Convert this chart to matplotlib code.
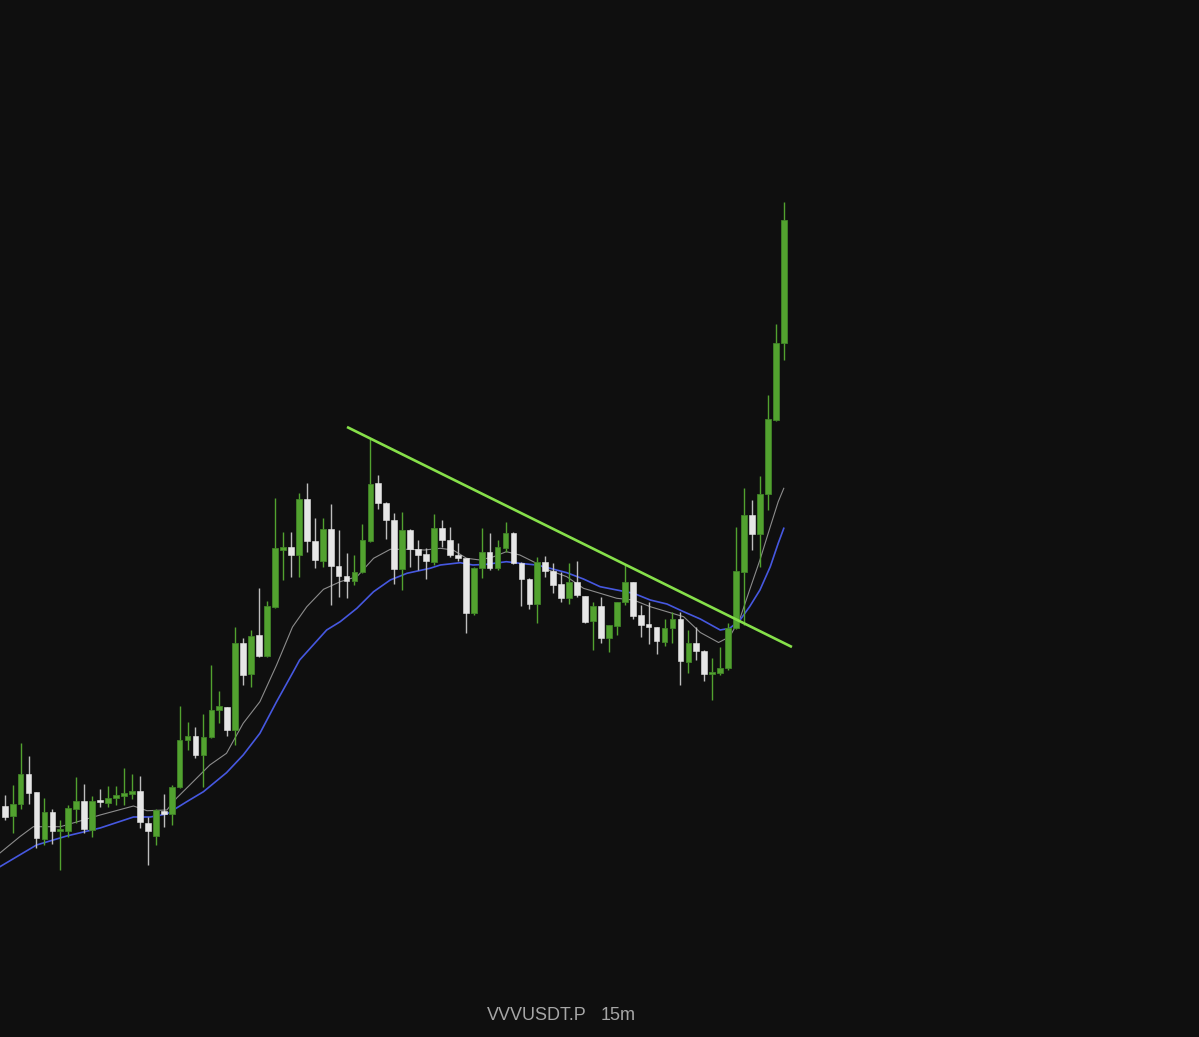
import matplotlib
matplotlib.use("Agg")
import matplotlib.pyplot as plt
import numpy as np

# candle data (oldest -> newest)
opens = [1.94, 1.843, 1.957, 2.26, 2.08, 1.61, 1.883, 1.693, 1.693, 1.913,
         1.993, 1.70, 1.997, 1.973, 2.017, 2.043, 2.06, 2.087, 1.773, 1.643,
         1.89, 1.857, 2.127, 2.60, 2.64, 2.45, 2.627, 2.90, 2.933, 2.70,
         3.573, 3.257, 3.65, 3.44, 3.933, 4.503, 4.533, 4.45, 5.007, 4.593,
         4.39, 4.707, 4.343, 4.243, 4.193, 4.283, 4.59, 5.167, 4.973, 4.80,
         4.307, 4.70, 4.51, 4.457, 4.383, 4.717, 4.60, 4.45, 4.423, 3.873,
         4.317, 4.477, 4.323, 4.517, 4.667, 4.367, 4.21, 3.96, 4.377, 4.29,
         4.157, 4.017, 4.177, 4.04, 3.79, 3.943, 3.623, 3.74, 3.983, 4.177,
         3.85, 3.76, 3.727, 3.583, 3.723, 3.81, 3.383, 3.573, 3.493, 3.257,
         3.267, 3.317, 3.717, 4.283, 4.85, 4.66, 5.06, 5.80, 6.567]
closes = [1.827, 1.96, 2.26, 2.067, 1.617, 1.877, 1.693, 1.707, 1.917, 1.993,
          1.707, 1.993, 1.977, 2.023, 2.05, 2.07, 2.087, 1.777, 1.693, 1.897,
          1.86, 2.127, 2.60, 2.64, 2.45, 2.627, 2.90, 2.94, 2.70, 3.573,
          3.25, 3.643, 3.44, 3.943, 4.517, 4.53, 4.45, 5.007, 4.59, 4.40,
          4.71, 4.343, 4.243, 4.193, 4.283, 4.60, 5.16, 4.973, 4.80, 4.307,
          4.70, 4.507, 4.45, 4.39, 4.717, 4.60, 4.45, 4.423, 3.873, 4.317,
          4.483, 4.323, 4.533, 4.667, 4.367, 4.21, 3.96, 4.377, 4.29, 4.15,
          4.017, 4.177, 4.05, 3.783, 3.94, 3.623, 3.75, 3.983, 4.177, 3.84,
          3.75, 3.727, 3.593, 3.723, 3.807, 3.39, 3.573, 3.49, 3.257, 3.277,
          3.317, 3.717, 4.29, 4.85, 4.66, 5.06, 5.807, 6.573, 7.80]
highs = [2.05, 2.15, 2.573, 2.44, 2.08, 2.023, 1.91, 1.80, 1.95, 2.233,
         2.16, 2.043, 2.107, 2.143, 2.14, 2.323, 2.257, 2.24, 1.827, 1.91,
         2.06, 2.15, 2.94, 2.777, 2.733, 2.86, 3.35, 3.093, 2.933, 3.733,
         3.617, 3.70, 4.117, 3.993, 5.017, 4.683, 4.683, 5.067, 5.173, 4.817,
         4.817, 4.96, 4.70, 4.473, 4.45, 4.757, 5.607, 5.25, 4.983, 4.873,
         4.883, 4.707, 4.60, 4.517, 4.86, 4.80, 4.727, 4.567, 4.423, 4.333,
         4.723, 4.667, 4.60, 4.783, 4.683, 4.383, 4.217, 4.427, 4.44, 4.367,
         4.283, 4.373, 4.39, 4.04, 3.983, 4.033, 3.75, 3.983, 4.35, 4.177,
         3.95, 3.983, 3.727, 3.807, 3.883, 3.883, 3.70, 3.727, 3.50, 3.417,
         3.533, 3.767, 4.733, 5.123, 5.00, 5.24, 6.05, 6.76, 7.983]
lows = [1.80, 1.673, 1.91, 1.96, 1.517, 1.55, 1.56, 1.30, 1.633, 1.767,
        1.673, 1.633, 1.933, 1.933, 1.95, 1.95, 2.007, 1.717, 1.35, 1.55,
        1.733, 1.75, 2.117, 2.50, 2.417, 2.127, 2.617, 2.773, 2.64, 2.55,
        3.15, 3.127, 3.433, 3.433, 3.917, 4.20, 4.233, 4.233, 4.483, 4.317,
        4.327, 3.95, 4.033, 4.017, 4.15, 4.267, 4.583, 4.907, 4.607, 4.16,
        4.10, 4.327, 4.30, 4.21, 4.35, 4.533, 4.433, 4.39, 3.667, 3.85,
        4.217, 4.30, 4.30, 4.483, 4.357, 3.94, 3.907, 3.767, 4.227, 4.067,
        3.983, 3.957, 4.033, 3.773, 3.50, 3.567, 3.483, 3.65, 3.95, 3.807,
        3.627, 3.56, 3.46, 3.54, 3.573, 3.15, 3.273, 3.40, 3.193, 3.00,
        3.25, 3.30, 3.707, 3.75, 4.50, 4.333, 4.90, 5.793, 6.40]

# moving averages sampled from the chart (candle index, value)
fast_idx = [-0.6, 1.9, 3.6, 7.0, 9.9, 12.0, 16.2, 17.9, 20.4, 21.6, 23.7, 25.8, 27.9, 30.0,
            32.1, 34.2, 36.2, 38.0, 40.1, 42.2, 44.3, 46.4, 48.5, 50.6, 52.8, 54.8, 56.4,
            58.1, 59.8, 61.5, 63.1, 64.8, 66.5, 68.4, 70.7, 72.8, 74.9, 77.0, 79.1, 81.2,
            83.3, 85.4, 87.5, 89.8, 91.2, 92.5, 93.7, 95.0, 96.3, 97.3, 98.0]
fast_ma = [1.47, 1.633, 1.733, 1.733, 1.80, 1.85, 1.94, 1.893, 1.90, 2.017, 2.183, 2.35, 2.467, 2.767,
           2.983, 3.35, 3.73, 3.933, 4.107, 4.183, 4.233, 4.417, 4.507, 4.507, 4.50, 4.517, 4.50,
           4.417, 4.40, 4.433, 4.483, 4.45, 4.383, 4.30, 4.233, 4.117, 4.067, 4.017, 4.00, 3.933,
           3.883, 3.833, 3.675, 3.575, 3.633, 3.817, 4.10, 4.40, 4.733, 4.983, 5.117]
slow_idx = [-0.6, 4.0, 7.8, 12.0, 16.2, 18.3, 20.4, 22.9, 25.0, 27.9, 30.0, 32.1, 34.2, 36.3,
            37.1, 40.5, 42.2, 44.3, 46.4, 48.5, 50.6, 53.5, 54.8, 57.3, 58.9, 60.6, 63.1, 64.8,
            66.9, 68.6, 70.7, 72.8, 74.9, 77.0, 79.1, 81.2, 83.3, 85.4, 87.5, 90.0, 91.2, 92.5,
            93.7, 95.0, 96.3, 97.3, 98.0]
slow_ma = [1.333, 1.55, 1.64, 1.72, 1.83, 1.83, 1.86, 1.983, 2.083, 2.273, 2.45, 2.667, 2.983, 3.283,
           3.40, 3.70, 3.783, 3.917, 4.083, 4.20, 4.267, 4.317, 4.35, 4.373, 4.35, 4.357, 4.383, 4.367,
           4.35, 4.317, 4.273, 4.21, 4.133, 4.10, 4.067, 4.00, 3.96, 3.883, 3.81, 3.70, 3.717, 3.80,
           3.933, 4.10, 4.333, 4.567, 4.717]

# drawn trend line
trend_x = [43.06, 99.03]
trend_y = [5.73, 3.53]

symbol = "VVVUSDT.P"
interval = "15m"

bg = "#0f0f0f"
up_col = "#52a22f"
up_edge = "#418428"
down_col = "#e6e6e6"

fig = plt.figure(figsize=(11.99, 10.37), dpi=100, facecolor=bg)
ax = fig.add_axes([0, 0, 1, 1])
ax.set_facecolor(bg)

o = np.array(opens)
c = np.array(closes)
h = np.array(highs)
l = np.array(lows)
x = np.arange(len(o))
up = c >= o

ax.plot(fast_idx, fast_ma, color="#8c8c8c", lw=0.8, zorder=1)
ax.plot(slow_idx, slow_ma, color="#4658e0", lw=1.2, zorder=1)

ax.vlines(x[up], l[up], h[up], color=up_col, lw=1.0, zorder=2)
ax.vlines(x[~up], l[~up], h[~up], color="#bdbdbd", lw=1.0, zorder=2)

body_lo = np.minimum(o, c)
body_h = np.maximum(np.abs(c - o), 0.02)
ax.bar(x[up], body_h[up], bottom=body_lo[up], width=0.72, color=up_col,
       edgecolor=up_edge, linewidth=0.6, zorder=3)
ax.bar(x[~up], body_h[~up], bottom=body_lo[~up], width=0.72, color=down_col,
       edgecolor=down_col, linewidth=0.4, zorder=3)

ax.plot(trend_x, trend_y, color="#86e04a", lw=1.9, solid_capstyle="butt", zorder=4)

ax.set_xlim(-0.591, 150.23)
ax.set_ylim(-0.37, 10.0)
ax.axis("off")

fig.text(487 / 1199, 1 - 1016 / 1037, symbol, color="#a6a6a6", fontsize=13,
         family="Liberation Sans", ha="left", va="center")
fig.text(601 / 1199, 1 - 1016 / 1037, interval, color="#a6a6a6", fontsize=13,
         family="Liberation Sans", ha="left", va="center")

fig.savefig("out.png", dpi=100, facecolor=bg)
